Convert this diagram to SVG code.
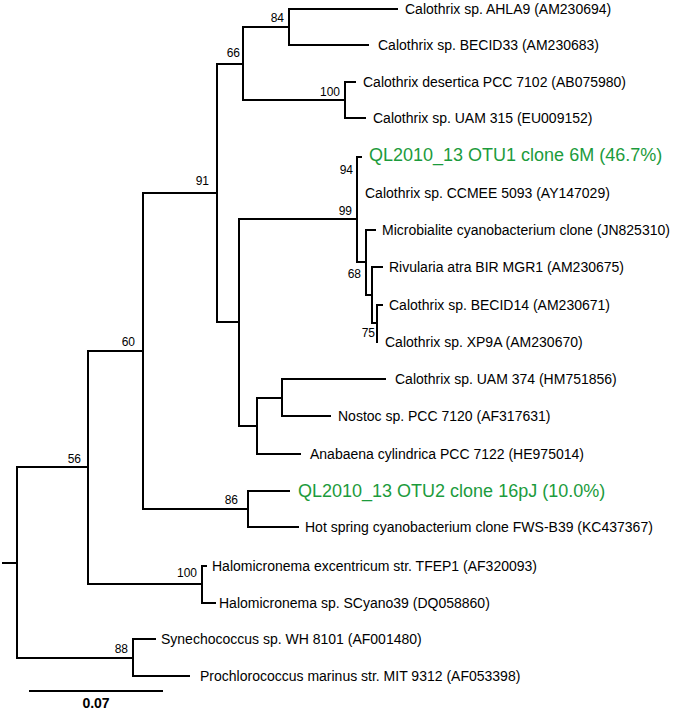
<svg xmlns="http://www.w3.org/2000/svg" width="680" height="713" viewBox="0 0 680 713">
<style>
.e{fill:none;stroke:#000;stroke-width:2;stroke-linecap:square;stroke-linejoin:miter}
.t{font-family:"Liberation Sans",Arial,sans-serif;font-size:14px;fill:#000}
.g{font-family:"Liberation Sans",Arial,sans-serif;font-size:18px;fill:#1c9b3c}
.b{font-family:"Liberation Sans",Arial,sans-serif;font-size:12px;fill:#000;text-anchor:end}
.s{font-family:"Liberation Sans",Arial,sans-serif;font-size:14px;font-weight:bold;fill:#000;text-anchor:middle}
</style>
<rect width="680" height="713" fill="#fff"/>
<g id="connectors">
<path class="e" d="M3 563 H17"/>
<path class="e" d="M88 467 H17 V658 H133"/>
<path class="e" d="M143 351 H88 V584 H202"/>
<path class="e" d="M217 193 H143 V509 H248"/>
<path class="e" d="M243 64 H217 V322 H239"/>
<path class="e" d="M289 27 H243 V100 H345"/>
<path class="e" d="M397 9 H289 V45 H368"/>
<path class="e" d="M355 82 H345 V118 H365"/>
<path class="e" d="M239 219 H357"/>
<path class="e" d="M361 157 H357 V262 H366"/>
<path class="e" d="M375 230 H366 V295 H372"/>
<path class="e" d="M382 267 H372 V323 H377"/>
<path class="e" d="M382 305 H377 V342"/>
<path class="e" d="M357 219 H239 V426 H257"/>
<path class="e" d="M282 398 H257 V454 H300"/>
<path class="e" d="M385 379 H282 V416 H330"/>
<path class="e" d="M289 491 H248 V527 H298"/>
<path class="e" d="M206 566 H202 V603 H215"/>
<path class="e" d="M155 639 H133 V676 H189"/>
<path class="e" d="M30 691 H162"/>
</g>
<g id="leaves">
<g id="leaf-ahla9"><text class="t" x="405" y="14">Calothrix sp. AHLA9 (AM230694)</text></g>
<g id="leaf-becid33"><text class="t" x="378" y="50">Calothrix sp. BECID33 (AM230683)</text></g>
<g id="leaf-desertica"><text class="t" x="363" y="87">Calothrix desertica PCC 7102 (AB075980)</text></g>
<g id="leaf-uam315"><text class="t" x="373" y="123">Calothrix sp. UAM 315 (EU009152)</text></g>
<g id="leaf-otu1"><text class="g" x="369" y="161">QL2010_13 OTU1 clone 6M (46.7%)</text></g>
<g id="leaf-ccmee"><text class="t" x="365" y="198">Calothrix sp. CCMEE 5093 (AY147029)</text></g>
<g id="leaf-microbialite"><text class="t" x="382" y="235">Microbialite cyanobacterium clone (JN825310)</text></g>
<g id="leaf-rivularia"><text class="t" x="389" y="272">Rivularia atra BIR MGR1 (AM230675)</text></g>
<g id="leaf-becid14"><text class="t" x="389" y="310">Calothrix sp. BECID14 (AM230671)</text></g>
<g id="leaf-xp9a"><text class="t" x="385" y="347">Calothrix sp. XP9A (AM230670)</text></g>
<g id="leaf-uam374"><text class="t" x="395" y="384">Calothrix sp. UAM 374 (HM751856)</text></g>
<g id="leaf-nostoc"><text class="t" x="338" y="421">Nostoc sp. PCC 7120 (AF317631)</text></g>
<g id="leaf-anabaena"><text class="t" x="310" y="459">Anabaena cylindrica PCC 7122 (HE975014)</text></g>
<g id="leaf-otu2"><text class="g" x="298" y="497">QL2010_13 OTU2 clone 16pJ (10.0%)</text></g>
<g id="leaf-hotspring"><text class="t" x="305" y="532">Hot spring cyanobacterium clone FWS-B39 (KC437367)</text></g>
<g id="leaf-halo1"><text class="t" x="212" y="571">Halomicronema excentricum str. TFEP1 (AF320093)</text></g>
<g id="leaf-halo2"><text class="t" x="219" y="608">Halomicronema sp. SCyano39 (DQ058860)</text></g>
<g id="leaf-synechococcus"><text class="t" x="161" y="644">Synechococcus sp. WH 8101 (AF001480)</text></g>
<g id="leaf-prochlorococcus"><text class="t" x="200" y="681">Prochlorococcus marinus str. MIT 9312 (AF053398)</text></g>
</g>
<g id="bootstrap">
<g id="node-84"><text class="b" x="284" y="22">84</text></g>
<g id="node-66"><text class="b" x="240" y="57">66</text></g>
<g id="node-100a"><text class="b" x="340" y="96">100</text></g>
<g id="node-91"><text class="b" x="209" y="185">91</text></g>
<g id="node-94"><text class="b" x="353" y="174">94</text></g>
<g id="node-99"><text class="b" x="352" y="215">99</text></g>
<g id="node-68"><text class="b" x="361" y="278">68</text></g>
<g id="node-75"><text class="b" x="375" y="337">75</text></g>
<g id="node-60"><text class="b" x="135" y="346">60</text></g>
<g id="node-86"><text class="b" x="238" y="504">86</text></g>
<g id="node-56"><text class="b" x="81" y="463">56</text></g>
<g id="node-100b"><text class="b" x="197" y="577">100</text></g>
<g id="node-88"><text class="b" x="128" y="653">88</text></g>
</g>
<g id="scale"><text class="s" x="96" y="708">0.07</text></g>
</svg>
